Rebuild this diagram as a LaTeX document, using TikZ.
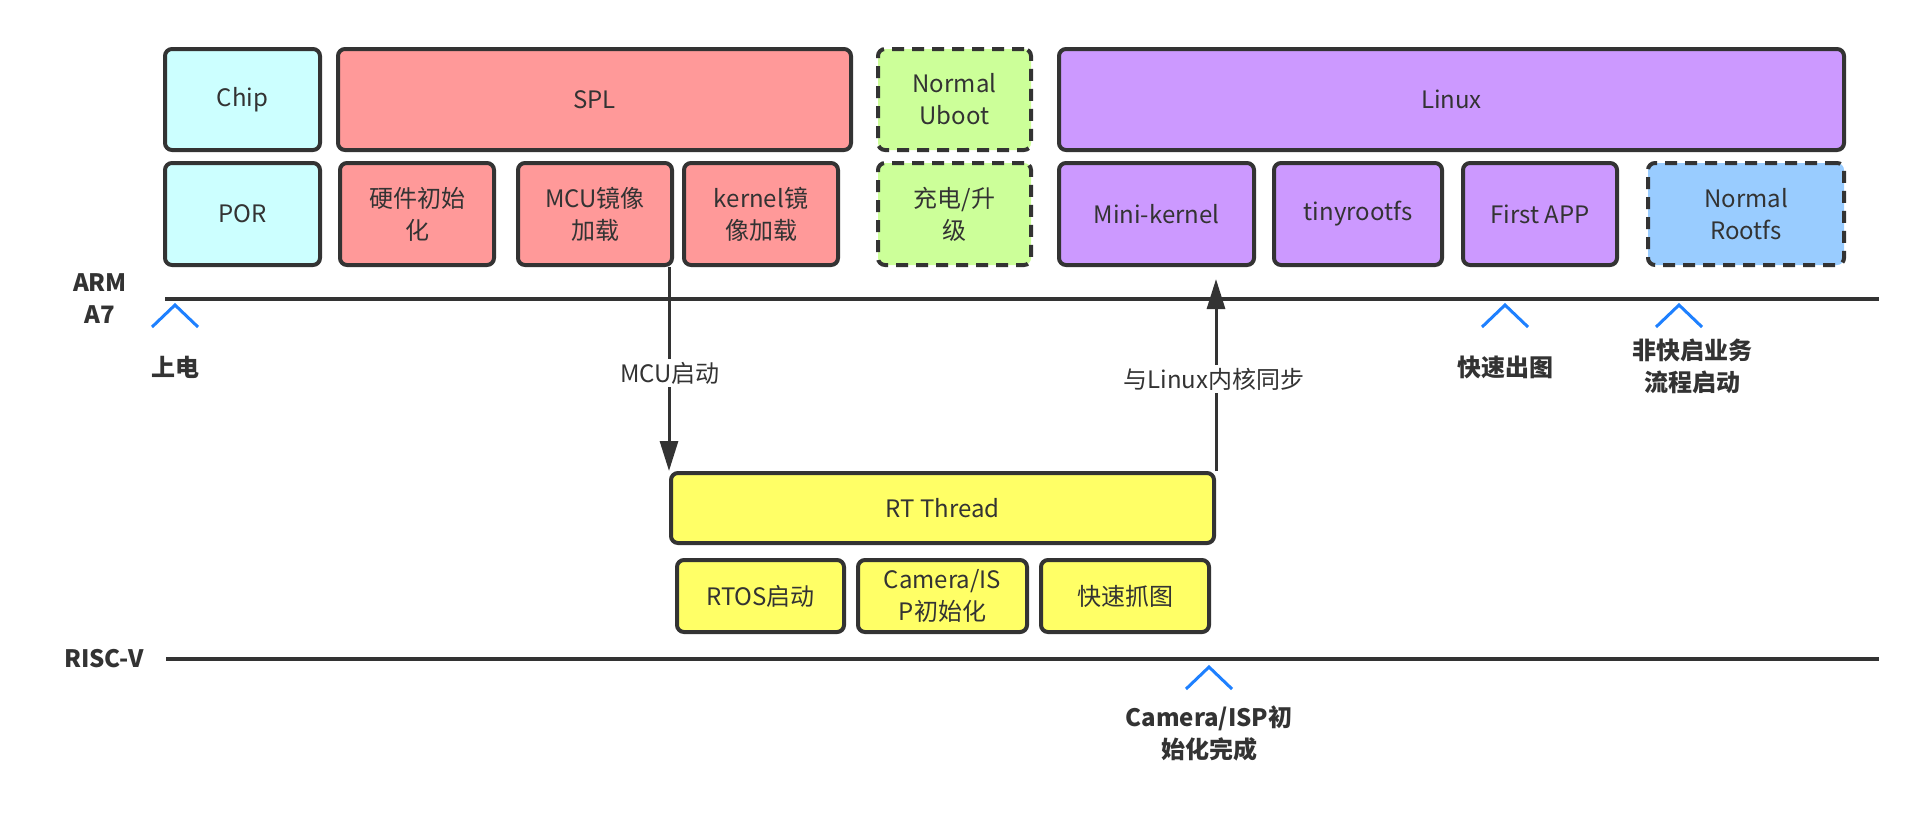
\documentclass[tikz,border=0pt]{standalone}
\usepackage{fontspec}
\setmainfont{Noto Sans CJK SC}
\usetikzlibrary{arrows.meta}

\definecolor{ink}{HTML}{333333}
\definecolor{chipc}{HTML}{CCFFFF}
\definecolor{splc}{HTML}{FF9999}
\definecolor{ubootc}{HTML}{CCFF99}
\definecolor{linuxc}{HTML}{CC99FF}
\definecolor{rootfsc}{HTML}{99CCFF}
\definecolor{rttc}{HTML}{FFFF66}
\definecolor{caretc}{HTML}{1E80FF}

\tikzset{
  blk/.style={draw=ink, line width=4pt, rounded corners=7pt, align=center,
    inner sep=0pt, text=ink, font=\fontsize{24}{32}\selectfont},
  dashblk/.style={blk, dash pattern=on 12pt off 8pt},
  axisline/.style={draw=ink, line width=3.5pt},
  caret/.style={draw=caretc, line width=3pt},
  lbl/.style={text=ink, align=center, font=\bfseries\fontsize{24}{32}\selectfont},
  flow/.style={draw=ink, line width=3pt, -{Triangle[length=30pt,width=18pt]}},
  flowlbl/.style={fill=white, text=ink, inner sep=3pt, font=\fontsize{24}{32}\selectfont}
}

\begin{document}
\begin{tikzpicture}[x=1pt,y=-1pt]
  \useasboundingbox (0,0) rectangle (1930,815);

  % ARM A7 row
  \node[blk, fill=chipc, minimum width=155, minimum height=101] (chip) at (242.5,99.5) {Chip};
  \node[blk, fill=splc, minimum width=513, minimum height=101] (spl) at (594.5,99.5) {SPL};
  \node[dashblk, fill=ubootc, minimum width=153, minimum height=101] (uboot) at (954.5,99.5) {Normal\\Uboot};
  \node[blk, fill=linuxc, minimum width=785, minimum height=101] (linux) at (1451.5,99.5) {Linux};

  \node[blk, fill=chipc, minimum width=155, minimum height=102] (por) at (242.5,214) {POR};
  \node[blk, fill=splc, minimum width=154, minimum height=102] (hwinit) at (417,214) {硬件初始\\化};
  \node[blk, fill=splc, minimum width=154, minimum height=102] (mcuimg) at (595,214) {MCU镜像\\加载};
  \node[blk, fill=splc, minimum width=154, minimum height=102] (kimg) at (761,214) {kernel镜\\像加载};
  \node[dashblk, fill=ubootc, minimum width=153, minimum height=102] (charge) at (954.5,214) {充电/升\\级};
  \node[blk, fill=linuxc, minimum width=195, minimum height=102] (minik) at (1156.5,214) {Mini-kernel};
  \node[blk, fill=linuxc, minimum width=168, minimum height=102] (tinyfs) at (1358,214) {tinyrootfs};
  \node[blk, fill=linuxc, minimum width=154, minimum height=102] (firstapp) at (1540,214) {First APP};
  \node[dashblk, fill=rootfsc, minimum width=196, minimum height=102] (normfs) at (1746,214) {Normal\\Rootfs};

  % RISC-V row
  \node[blk, fill=rttc, minimum width=543, minimum height=70] (rtt) at (942.5,508) {RT Thread};
  \node[blk, fill=rttc, minimum width=167, minimum height=72] (rtos) at (760.5,596) {RTOS启动};
  \node[blk, fill=rttc, minimum width=169, minimum height=72] (caminit) at (942.5,596) {Camera/IS\\P初始化};
  \node[blk, fill=rttc, minimum width=168, minimum height=72] (grab) at (1125,596) {快速抓图};

  % axes
  \node[lbl] (arm) at (100,299) {ARM\\A7};
  \node[lbl] (riscv) at (104,659) {RISC-V};
  \coordinate (armL) at (165,299);
  \coordinate (armR) at (1879,299);
  \coordinate (rvL) at (166,659);
  \coordinate (rvR) at (1879,659);
  \draw[axisline] (armL) -- (armR);
  \draw[axisline] (rvL) -- (rvR);

  % markers
  \draw[caret] (175,305) ++(-23,22) -- ++(23,-22) -- ++(23,22);
  \node[lbl] (poweron) at (175,367) {上电};
  \draw[caret] (1505,305) ++(-23,22) -- ++(23,-22) -- ++(23,22);
  \node[lbl] (fastimg) at (1505,367) {快速出图};
  \draw[caret] (1679,305) ++(-23,22) -- ++(23,-22) -- ++(23,22);
  \node[lbl] (normstart) at (1692,366) {非快启业务\\流程启动};
  \draw[caret] (1209,667) ++(-23,22) -- ++(23,-22) -- ++(23,22);
  \node[lbl] (camdone) at (1209,733) {Camera/ISP初\\始化完成};

  % flows between cores
  \draw[flow] (rtt.north west |- mcuimg.south) -- (rtt.north west);
  \node[flowlbl] (mcustart) at (670,373) {MCU启动};
  \draw[flow, shorten >=12pt] (rtt.north east) -- (rtt.north east |- minik.south);
  \node[flowlbl] (sync) at (1214,379) {与Linux内核同步};
\end{tikzpicture}
\end{document}
